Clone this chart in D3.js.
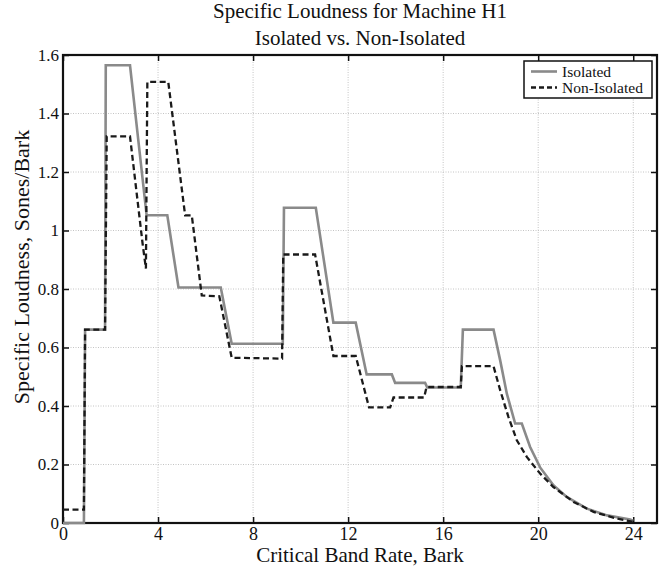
<!DOCTYPE html>
<html>
<head>
<meta charset="utf-8">
<script src="https://cdn.jsdelivr.net/npm/d3@7"></script>
<style>
  body { margin: 0; background: #fff; }
  text { font-family: "Liberation Serif", "Times New Roman", serif; fill: #111; }
</style>
</head>
<body>
<svg id="chart" width="664" height="567"></svg>
<script>
// Isolated: vertices of the specific loudness curve (Bark, Sones/Bark)
const barkIso = [0, 0.88, 0.93, 1.77, 1.80, 1.88, 2.82, 3.52, 4.39, 4.86, 6.64, 7.10, 9.25, 9.30, 10.64, 11.38, 12.32, 12.78, 13.84, 13.98, 15.24, 15.33, 16.74, 16.83, 18.12, 18.40, 18.68, 19.03, 19.31, 19.66, 20.08, 20.64, 21.20, 22.05, 22.90, 23.87, 24.0];
const loudIso = [0, 0, 0.661, 0.661, 1.565, 1.565, 1.565, 1.052, 1.052, 0.805, 0.805, 0.613, 0.613, 1.078, 1.078, 0.685, 0.685, 0.508, 0.508, 0.479, 0.479, 0.463, 0.463, 0.661, 0.661, 0.556, 0.442, 0.340, 0.340, 0.260, 0.190, 0.129, 0.089, 0.049, 0.026, 0.012, 0.008];

// Non-Isolated
const barkNon = [0, 0.88, 0.93, 1.77, 1.84, 2.82, 3.35, 3.49, 3.52, 3.55, 4.43, 5.14, 5.42, 5.84, 6.58, 7.10, 9.22, 9.27, 10.61, 11.38, 12.32, 12.88, 13.77, 13.91, 15.20, 15.30, 16.74, 16.79, 18.12, 18.40, 18.75, 19.10, 19.52, 20.08, 20.64, 21.49, 22.33, 23.31, 23.94, 24.0];
const loudNon = [0.046, 0.046, 0.661, 0.661, 1.322, 1.322, 0.955, 0.870, 1.20, 1.508, 1.508, 1.052, 1.052, 0.778, 0.775, 0.565, 0.562, 0.918, 0.918, 0.571, 0.571, 0.395, 0.395, 0.429, 0.429, 0.465, 0.465, 0.536, 0.536, 0.454, 0.362, 0.283, 0.226, 0.169, 0.123, 0.072, 0.038, 0.015, 0.005, 0.004];

const xTicks = [0, 4, 8, 12, 16, 20, 24];
const yTicks = [0, 0.2, 0.4, 0.6, 0.8, 1, 1.2, 1.4, 1.6];
const seriesNames = ["Isolated", "Non-Isolated"];

const svg = d3.select("#chart");
const margin = { left: 63, right: 7, top: 55, bottom: 44 };
const W = 664, H = 567;

const x = d3.scaleLinear().domain([0, 25]).range([margin.left, W - margin.right]);
const y = d3.scaleLinear().domain([0, 1.6]).range([H - margin.bottom, margin.top]);

// grid
const grid = svg.append("g").attr("stroke", "#c4c4c4").attr("stroke-width", 1).attr("stroke-dasharray", "1,1.5");
grid.selectAll(".gx").data(xTicks.slice(1)).enter().append("line")
  .attr("x1", d => x(d)).attr("x2", d => x(d))
  .attr("y1", y(0)).attr("y2", y(1.6));
grid.selectAll(".gy").data(yTicks.slice(1)).enter().append("line")
  .attr("x1", x(0)).attr("x2", x(25))
  .attr("y1", d => y(d)).attr("y2", d => y(d));

// axes with inward ticks
const fmtY = d => d3.format("~g")(d);
svg.append("g").attr("transform", `translate(0,${y(0)})`)
  .call(d3.axisBottom(x).tickValues(xTicks).tickSizeInner(-6).tickSizeOuter(0).tickPadding(4))
  .call(g => g.selectAll("text").attr("font-size", 18).attr("font-family", "Liberation Serif"));
svg.append("g").attr("transform", `translate(${x(0)},0)`)
  .call(d3.axisLeft(y).tickValues(yTicks).tickFormat(fmtY).tickSizeInner(-6).tickSizeOuter(0).tickPadding(4))
  .call(g => g.selectAll("text").attr("font-size", 17).attr("font-family", "Liberation Serif"));
svg.append("g").attr("transform", `translate(0,${y(1.6)})`)
  .call(d3.axisTop(x).tickValues(xTicks).tickSizeInner(-6).tickSizeOuter(0).tickFormat(""));
svg.append("g").attr("transform", `translate(${x(25)},0)`)
  .call(d3.axisRight(y).tickValues(yTicks).tickSizeInner(-6).tickSizeOuter(0).tickFormat(""));
svg.selectAll(".domain").remove();
svg.selectAll(".tick line").attr("stroke", "#111").attr("stroke-width", 1.5);

// frame
svg.append("rect")
  .attr("x", x(0)).attr("y", y(1.6))
  .attr("width", x(25) - x(0)).attr("height", y(0) - y(1.6))
  .attr("fill", "none").attr("stroke", "#111").attr("stroke-width", 2.2);

// curves
const line = d3.line().x(d => x(d[0])).y(d => y(d[1]));
const isoPts = d3.zip(barkIso, loudIso);
const nonPts = d3.zip(barkNon, loudNon);

svg.append("path").datum(isoPts).attr("d", line)
  .attr("fill", "none").attr("stroke", "#8a8a8a").attr("stroke-width", 2.6);
svg.append("path").datum(nonPts).attr("d", line)
  .attr("fill", "none").attr("stroke", "#1a1a1a").attr("stroke-width", 2.3)
  .attr("stroke-dasharray", "6,3.5");

// legend
const lg = svg.append("g").attr("transform", "translate(524,61)");
lg.append("rect").attr("width", 128).attr("height", 37)
  .attr("fill", "#fff").attr("stroke", "#111").attr("stroke-width", 1.5);
const styles = [
  { stroke: "#8a8a8a", w: 2.6, dash: null },
  { stroke: "#1a1a1a", w: 2.3, dash: "5,3" }
];
seriesNames.forEach((name, i) => {
  const yy = 10.5 + i * 16;
  lg.append("line").attr("x1", 7).attr("x2", 33).attr("y1", yy).attr("y2", yy)
    .attr("stroke", styles[i].stroke).attr("stroke-width", styles[i].w)
    .attr("stroke-dasharray", styles[i].dash);
  lg.append("text").attr("x", 38).attr("y", yy + 5).attr("font-size", 15.5).text(name);
});

// titles
svg.append("text").attr("x", 360).attr("y", 18).attr("text-anchor", "middle")
  .attr("font-size", 21).text("Specific Loudness for Machine H1");
svg.append("text").attr("x", 360).attr("y", 45).attr("text-anchor", "middle")
  .attr("font-size", 21).text("Isolated vs. Non-Isolated");
svg.append("text").attr("x", 360).attr("y", 562).attr("text-anchor", "middle")
  .attr("font-size", 21).text("Critical Band Rate, Bark");
svg.append("text").attr("transform", "translate(29,267) rotate(-90)")
  .attr("text-anchor", "middle").attr("font-size", 22).text("Specific Loudness, Sones/Bark");
</script>
</body>
</html>
